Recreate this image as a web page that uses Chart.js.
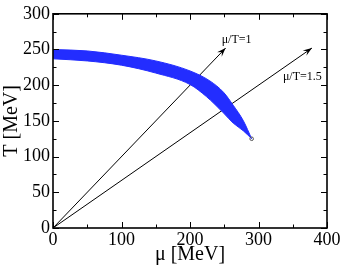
<!DOCTYPE html>
<html>
<head>
<meta charset="utf-8">
<script src="https://cdn.jsdelivr.net/npm/chart.js@4/dist/chart.umd.min.js"></script>
<style>
html,body{margin:0;padding:0;background:#fff;}
#wrap{width:343px;height:267px;position:relative;}
</style>
</head>
<body>
<div id="wrap"><canvas id="c" width="343" height="267"></canvas></div>
<script>
// Band (crossover region): upper and lower edges, mu [MeV] vs T [MeV]
const upperMu   = [0, 50, 100, 150, 200, 229, 249, 263, 278, 290];
const upperT    = [250, 248, 242, 234, 220, 206, 190, 172, 150, 125];
const lowerMu   = [0, 50, 100, 150, 200, 224, 249, 263, 278, 290];
const lowerT    = [237, 234, 228, 217, 201, 184, 161, 147, 136, 125];
// Arrows mu/T = const from the origin
const arrowLabels = ["μ/T=1", "μ/T=1.5"];
const arrowEndMu  = [252, 378];
const arrowEndT   = [252, 252];
const labelMu     = [268, 364];
const labelT      = [263, 212];
// Axis ticks
const xTicks = [0, 100, 200, 300, 400];
const yTicks = [0, 50, 100, 150, 200, 250, 300];

const BLUE = 'rgb(35,45,255)';

const upper = upperMu.map((m,i)=>({x:m,y:upperT[i]}));
const lower = lowerMu.map((m,i)=>({x:m,y:lowerT[i]}));
const arrowSets = arrowLabels.map((lab,i)=>({
  label: lab,
  data: [{x:0,y:0},{x:arrowEndMu[i],y:arrowEndT[i]}],
  showLine: true, borderColor:'#000', borderWidth:1, pointRadius:0, fill:false,
  isArrow:true
}));

const framePlugin = {
  id:'frame',
  afterDatasetsDraw(chart){
    const {ctx, chartArea:a, scales:{x,y}} = chart;
    ctx.save();
    chart.data.datasets.forEach((ds)=>{
      if(!ds.isArrow) return;
      const p0 = ds.data[0], p1 = ds.data[1];
      const x0=x.getPixelForValue(p0.x), y0=y.getPixelForValue(p0.y);
      const x1=x.getPixelForValue(p1.x), y1=y.getPixelForValue(p1.y);
      const ang=Math.atan2(y1-y0,x1-x0);
      const L=9, W=3.2;
      ctx.fillStyle='#000';
      ctx.beginPath();
      ctx.moveTo(x1,y1);
      ctx.lineTo(x1-L*Math.cos(ang)+W*Math.sin(ang), y1-L*Math.sin(ang)-W*Math.cos(ang));
      ctx.lineTo(x1-0.6*L*Math.cos(ang), y1-0.6*L*Math.sin(ang));
      ctx.lineTo(x1-L*Math.cos(ang)-W*Math.sin(ang), y1-L*Math.sin(ang)+W*Math.cos(ang));
      ctx.closePath();
      ctx.fill();
    });
    ctx.font = '12px "Liberation Serif", serif';
    ctx.fillStyle='#000';
    ctx.textAlign='center';
    ctx.textBaseline='middle';
    arrowLabels.forEach((lab,i)=>{
      ctx.fillText(lab, x.getPixelForValue(labelMu[i]), y.getPixelForValue(labelT[i]));
    });
    const tx=x.getPixelForValue(upperMu[upperMu.length-1]), ty=y.getPixelForValue(upperT[upperT.length-1]);
    ctx.strokeStyle='#555'; ctx.lineWidth=1;
    ctx.beginPath(); ctx.arc(tx,ty,1.8,0,Math.PI*2); ctx.stroke();
    ctx.strokeStyle='#000'; ctx.lineWidth=1.6;
    ctx.strokeRect(a.left, a.top, a.right-a.left, a.bottom-a.top);
    ctx.lineWidth=1;
    ctx.beginPath();
    for(let v=0; v<=400; v+=50){
      const px=Math.round(x.getPixelForValue(v))+0.5;
      const len = (v%100===0)?6:3.5;
      ctx.moveTo(px,a.bottom); ctx.lineTo(px,a.bottom-len);
      ctx.moveTo(px,a.top); ctx.lineTo(px,a.top+len);
    }
    for(let v=0; v<=300; v+=25){
      const py=Math.round(y.getPixelForValue(v))+0.5;
      const len = (v%50===0)?6:3.5;
      ctx.moveTo(a.left,py); ctx.lineTo(a.left+len,py);
      ctx.moveTo(a.right,py); ctx.lineTo(a.right-len,py);
    }
    ctx.stroke();
    ctx.restore();
  }
};

new Chart(document.getElementById('c'), {
  type:'scatter',
  data:{
    datasets:[
      {label:'upper', data:upper, showLine:true, borderColor:BLUE, borderWidth:1, pointRadius:0, fill:false, cubicInterpolationMode:'monotone'},
      {label:'lower', data:lower, showLine:true, borderColor:BLUE, borderWidth:1, pointRadius:0, fill:'-1', backgroundColor:BLUE, cubicInterpolationMode:'monotone'},
      ...arrowSets
    ]
  },
  options:{
    responsive:false,
    animation:false,
    devicePixelRatio:1,
    layout:{padding:{top:8,right:16,left:0,bottom:0}},
    plugins:{legend:{display:false}, tooltip:{enabled:false}},
    scales:{
      x:{
        type:'linear', min:0, max:400,
        afterBuildTicks(s){ s.ticks = xTicks.map(v=>({value:v})); },
        afterFit(s){ s.height = 39; },
        grid:{display:false, drawTicks:false},
        border:{display:false},
        ticks:{color:'#000', padding:1, maxRotation:0, font:{family:'"Liberation Serif", serif', size:18}},
        title:{display:true, text:'μ [MeV]', color:'#000', padding:{top:0,bottom:0}, font:{family:'"Liberation Serif", serif', size:20}}
      },
      y:{
        type:'linear', min:0, max:300,
        afterBuildTicks(s){ s.ticks = yTicks.map(v=>({value:v})); },
        afterFit(s){ s.width = 53; },
        grid:{display:false, drawTicks:false},
        border:{display:false},
        ticks:{color:'#000', padding:3, font:{family:'"Liberation Serif", serif', size:18}},
        title:{display:true, text:'T [MeV]', color:'#000', padding:{top:0,bottom:0}, font:{family:'"Liberation Serif", serif', size:20}}
      }
    }
  },
  plugins:[framePlugin]
});
</script>
</body>
</html>
